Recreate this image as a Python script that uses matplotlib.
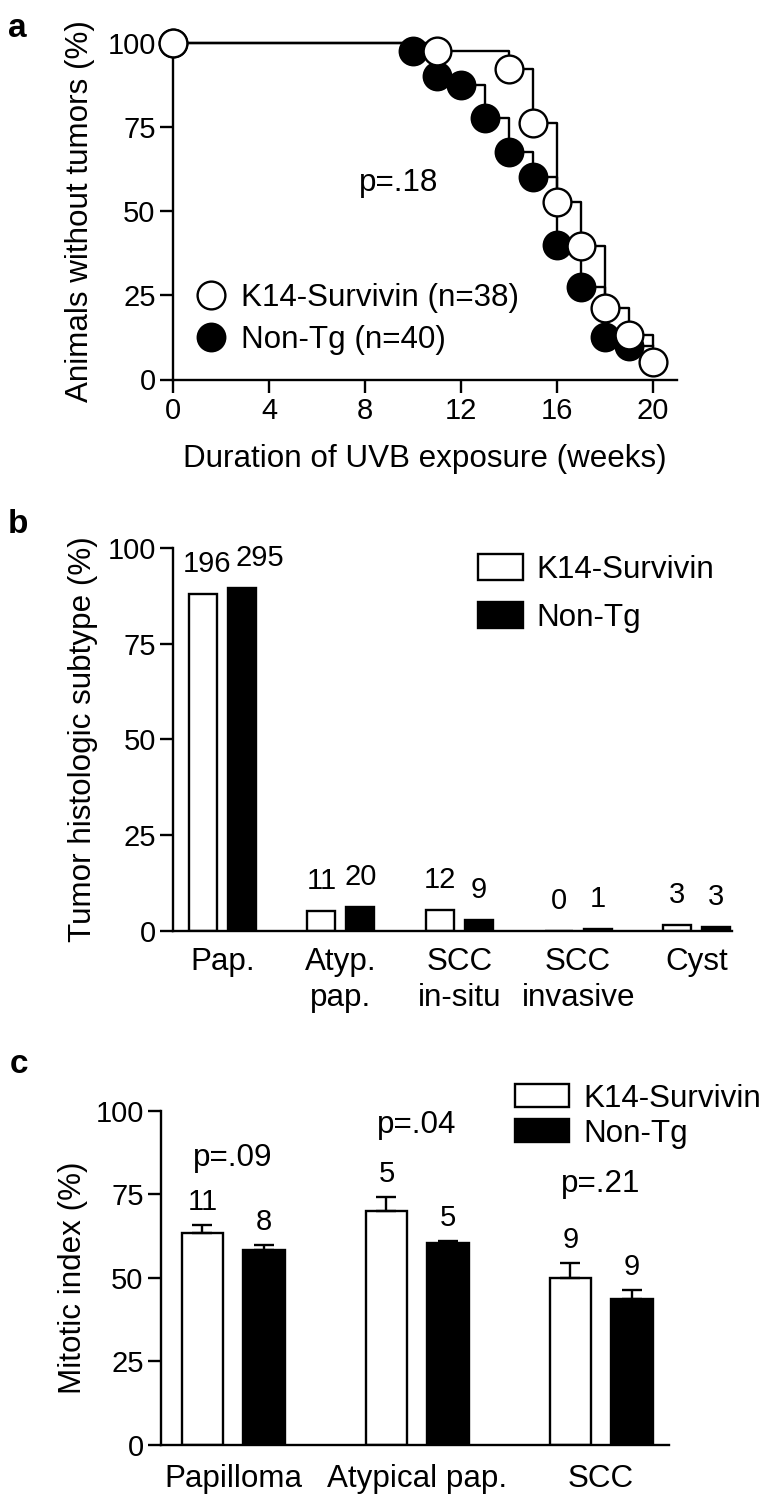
import matplotlib
matplotlib.use("Agg")
import matplotlib.pyplot as plt
from matplotlib.lines import Line2D
from matplotlib.patches import Patch
import numpy as np

plt.rcParams['font.family'] = ['Liberation Sans', 'DejaVu Sans']

# ---------------- data ----------------
# Panel a: Kaplan-Meier (animals without tumors, %)
k14_weeks = [0, 11, 14, 15, 16, 17, 18, 19, 20]
k14_pct = [100, 97.4, 92.1, 76.3, 52.6, 39.5, 21.1, 13.2, 5.3]
nontg_weeks = [0, 10, 11, 12, 13, 14, 15, 16, 17, 18, 19]
nontg_pct = [100, 97.5, 90.0, 87.5, 77.5, 67.5, 60.0, 40.0, 27.5, 12.5, 10.0]
nontg_followup_end = 20
label_k14_a = "K14-Survivin (n=38)"
label_nontg_a = "Non-Tg (n=40)"
p_a = "p=.18"
xticks_a = [0, 4, 8, 12, 16, 20]
yticks = [0, 25, 50, 75, 100]

# Panel b: tumor histologic subtype (%)
subtypes = ["Pap.", "Atyp.\npap.", "SCC\nin-situ", "SCC\ninvasive", "Cyst"]
k14_subtype_pct = [88.0, 5.0, 5.4, 0.0, 1.4]
nontg_subtype_pct = [89.5, 6.1, 2.7, 0.3, 0.9]
k14_subtype_n = [196, 11, 12, 0, 3]
nontg_subtype_n = [295, 20, 9, 1, 3]

# Panel c: mitotic index (%)
lesions = ["Papilloma", "Atypical pap.", "SCC"]
k14_mitotic = [63.3, 70.1, 50.1]
k14_mitotic_err = [2.5, 4.0, 4.2]
nontg_mitotic = [58.3, 60.3, 43.6]
nontg_mitotic_err = [1.5, 0.7, 2.9]
k14_mitotic_n = [11, 5, 9]
nontg_mitotic_n = [8, 5, 9]
p_c = ["p=.09", "p=.04", "p=.21"]
p_c_y = [83.4, 93.2, 75.8]

legend_k14 = "K14-Survivin"
legend_nontg = "Non-Tg"

# ---------------- style ----------------
W, H = 768, 1505
DPI = 100
FS_LAB = 22.6
FS_TICK = 21
LW = 1.7
MS = 20

# horizontal nudges (pixels) of the count labels in panel b, to avoid overlap
k14_count_dx = [4, 0, 0, 0, 0]
nontg_count_dx = [18, 0, 0, 0, 0]

def fig_rect(l, r, top, bottom):
    return [l / W, (H - bottom) / H, (r - l) / W, (bottom - top) / H]

def style_axes(ax):
    for s in ['top', 'right']:
        ax.spines[s].set_visible(False)
    for s in ['left', 'bottom']:
        ax.spines[s].set_linewidth(LW)
    ax.tick_params(axis='both', direction='out', width=LW, length=9.5,
                   labelsize=FS_TICK, pad=3)

fig = plt.figure(figsize=(W / DPI, H / DPI), dpi=DPI)

# ================= Panel a =================
axa = fig.add_axes(fig_rect(173, 677, 42.7, 379.5))
style_axes(axa)
axa.set_xlim(0, 21)
axa.set_ylim(0, 100)
axa.set_xticks(xticks_a)
axa.set_yticks(yticks)

steps_nontg_x = nontg_weeks + [nontg_followup_end]
steps_nontg_y = nontg_pct + [nontg_pct[-1]]
axa.step(steps_nontg_x, steps_nontg_y, where='post', color='black', lw=LW,
         clip_on=False, zorder=2)
axa.plot(nontg_weeks, nontg_pct, 'o', ms=MS, mfc='black', mec='black',
         mew=1.5, clip_on=False, zorder=3)
axa.step(k14_weeks, k14_pct, where='post', color='black', lw=LW,
         clip_on=False, zorder=4)
axa.plot(k14_weeks, k14_pct, 'o', ms=MS, mfc='white', mec='black',
         mew=1.7, clip_on=False, zorder=5)

axa.text(9.42, 56, p_a, fontsize=FS_LAB, ha='center', va='baseline')
axa.set_xlabel("Duration of UVB exposure (weeks)", fontsize=FS_LAB, labelpad=14)
axa.set_ylabel("Animals without tumors (%)", fontsize=FS_LAB, labelpad=9)

h_open = Line2D([], [], ls='none', marker='o', ms=MS, mfc='white', mec='black', mew=1.7)
h_fill = Line2D([], [], ls='none', marker='o', ms=MS, mfc='black', mec='black', mew=1.5)
axa.legend([h_open, h_fill], [label_k14_a, label_nontg_a], loc='upper left',
           bbox_to_anchor=(0.044, 0.288), frameon=False, fontsize=FS_LAB,
           handlelength=1.0, handletextpad=0.47, labelspacing=0.41,
           borderpad=0, borderaxespad=0)

fig.text(8 / W, 1 - 37 / H, "a", fontsize=24, fontweight='bold', va='baseline')

# ================= Panel b =================
axb = fig.add_axes(fig_rect(173.3, 731.9, 548.3, 930.6))
style_axes(axb)
axb.set_xlim(-0.413, 4.296)
axb.set_ylim(0, 100)
axb.set_yticks(yticks)
xb = np.arange(len(subtypes))
bw_b, off_b = 0.236, 0.164
axb.bar(xb - off_b, k14_subtype_pct, bw_b, color='white', edgecolor='black',
        linewidth=LW, zorder=2)
axb.bar(xb + off_b, nontg_subtype_pct, bw_b, color='black', edgecolor='black',
        linewidth=LW, zorder=2)
for xi, h, n, dx in zip(xb - off_b, k14_subtype_pct, k14_subtype_n, k14_count_dx):
    axb.annotate(str(n), (xi, h), xytext=(dx, 22), textcoords='offset pixels',
                 ha='center', va='baseline', fontsize=FS_TICK)
for xi, h, n, dx in zip(xb + off_b, nontg_subtype_pct, nontg_subtype_n, nontg_count_dx):
    axb.annotate(str(n), (xi, h), xytext=(dx, 22), textcoords='offset pixels',
                 ha='center', va='baseline', fontsize=FS_TICK)
axb.set_xticks(xb)
axb.set_xticklabels(subtypes, fontsize=FS_LAB, linespacing=1.25)
axb.tick_params(axis='x', length=0, pad=12)
axb.set_ylabel("Tumor histologic subtype (%)", fontsize=FS_LAB, labelpad=7)
axb.legend([Patch(facecolor='white', edgecolor='black', linewidth=LW),
            Patch(facecolor='black', edgecolor='black', linewidth=LW)],
           [legend_k14, legend_nontg], loc='upper left',
           bbox_to_anchor=(0.546, 0.986), frameon=False, fontsize=FS_LAB,
           handlelength=1.43, handleheight=0.9, handletextpad=0.43,
           labelspacing=0.55, borderpad=0, borderaxespad=0)
fig.text(8 / W, 1 - 533 / H, "b", fontsize=24, fontweight='bold', va='baseline')

# ================= Panel c =================
axc = fig.add_axes(fig_rect(161, 668.5, 1110.7, 1445))
style_axes(axc)
axc.set_xlim(-0.392, 2.366)
axc.set_ylim(0, 100)
axc.set_yticks(yticks)
xc = np.arange(len(lesions))
bw_c, off_c = 0.226, 0.167
ekw = dict(elinewidth=LW, capthick=LW, capsize=7, ecolor='black')
axc.bar(xc - off_c, k14_mitotic, bw_c, color='white', edgecolor='black', linewidth=LW,
        yerr=[np.zeros(3), k14_mitotic_err], error_kw=ekw, zorder=2)
axc.bar(xc + off_c, nontg_mitotic, bw_c, color='black', edgecolor='black', linewidth=LW,
        yerr=[np.zeros(3), nontg_mitotic_err], error_kw=ekw, zorder=2)
for xi, h, e, n in zip(xc - off_c, k14_mitotic, k14_mitotic_err, k14_mitotic_n):
    axc.annotate(str(n), (xi, h + e), xytext=(0, 15), textcoords='offset pixels',
                 ha='center', va='baseline', fontsize=FS_TICK)
for xi, h, e, n in zip(xc + off_c, nontg_mitotic, nontg_mitotic_err, nontg_mitotic_n):
    axc.annotate(str(n), (xi, h + e), xytext=(0, 15), textcoords='offset pixels',
                 ha='center', va='baseline', fontsize=FS_TICK)
for xi, y, p in zip(xc, p_c_y, p_c):
    axc.text(xi, y, p, ha='center', va='baseline', fontsize=FS_LAB)
axc.set_xticks(xc)
axc.set_xticklabels(lesions, fontsize=FS_LAB)
axc.tick_params(axis='x', length=0, pad=14)
axc.set_ylabel("Mitotic index (%)", fontsize=FS_LAB, labelpad=5)
axc.legend([Patch(facecolor='white', edgecolor='black', linewidth=LW),
            Patch(facecolor='black', edgecolor='black', linewidth=LW)],
           [legend_k14, legend_nontg], loc='upper left',
           bbox_to_anchor=(0.6975, 1.081), frameon=False, fontsize=FS_LAB,
           handlelength=1.72, handleheight=0.73, handletextpad=0.45,
           labelspacing=0.16, borderpad=0, borderaxespad=0)
fig.text(10 / W, 1 - 1073 / H, "c", fontsize=24, fontweight='bold', va='baseline')

fig.savefig("out.png", dpi=DPI)
